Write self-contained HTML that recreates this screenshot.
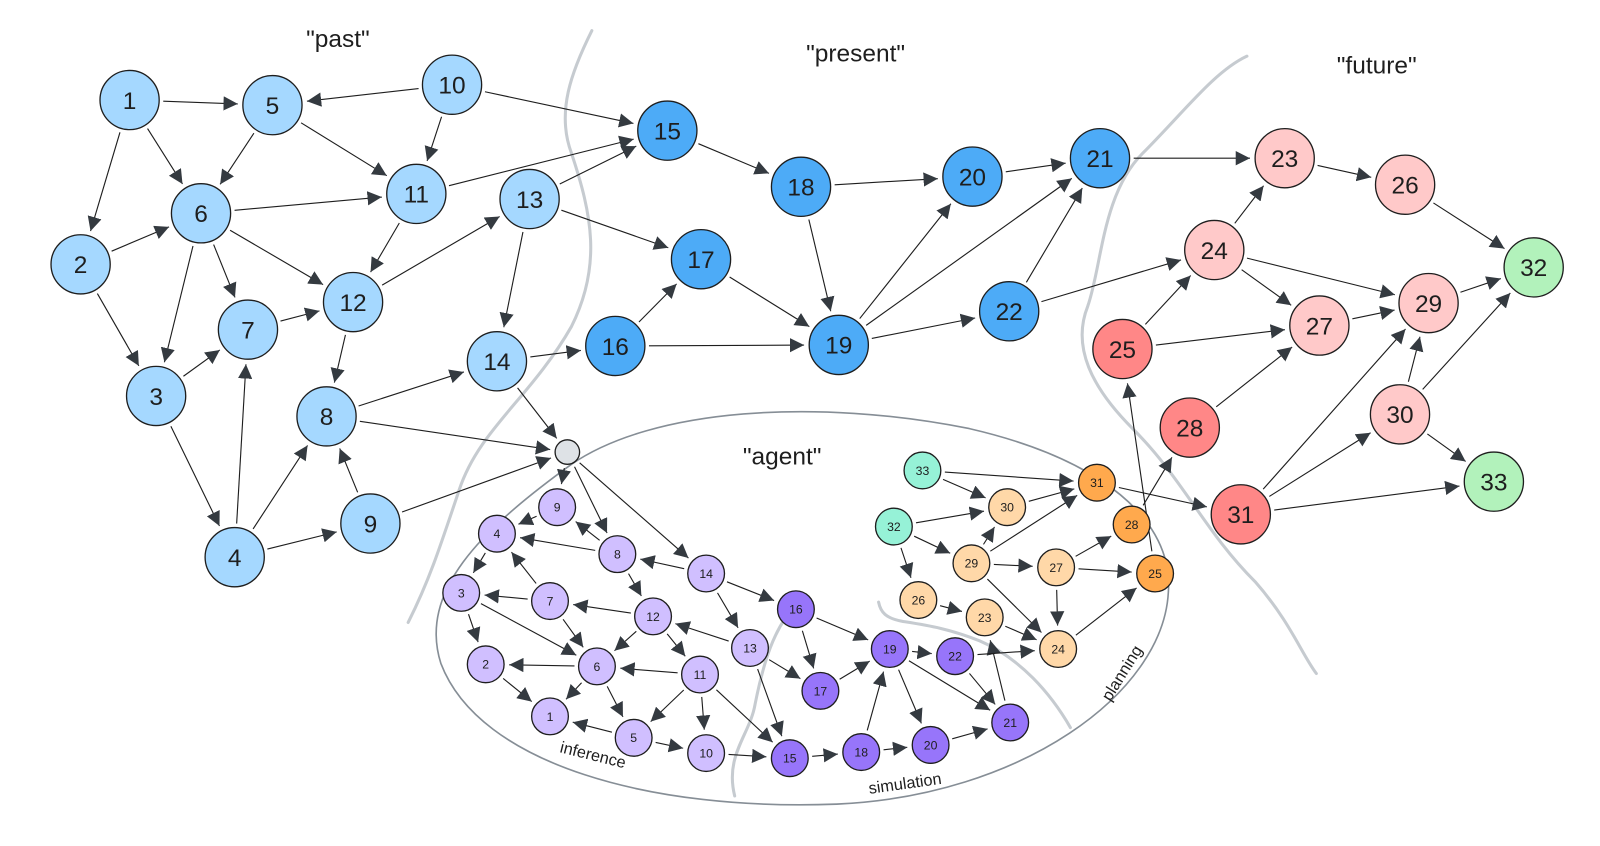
<!DOCTYPE html>
<html><head><meta charset="utf-8"><style>
html,body{margin:0;padding:0;background:#fff;}
svg{display:block;}
text{font-family:"Liberation Sans",sans-serif;}
</style></head><body>
<svg id="s" width="1600" height="846" viewBox="0 0 1568 829" xmlns="http://www.w3.org/2000/svg">
<defs><marker id="a" viewBox="0 0 10 10" refX="10" refY="5" markerWidth="9" markerHeight="9" markerUnits="userSpaceOnUse" orient="auto"><path d="M0,0L10,5L0,10z" fill="#343a40"/></marker>
<marker id="b" viewBox="0 0 10 10" refX="10" refY="5" markerWidth="14" markerHeight="14" markerUnits="userSpaceOnUse" orient="auto"><path d="M0,0L10,5L0,10z" fill="#343a40"/></marker></defs>
<g fill="none" stroke="#c6cbd0" stroke-width="3" stroke-linecap="round">
<path d="M580,30 C560,70 545,110 560,150 C580,210 590,260 560,320 C520,390 470,420 450,480 C430,540 420,570 400,610"/>
<path d="M1222,55 C1190,70 1160,110 1120,150 C1080,190 1080,260 1066,300 C1050,340 1070,380 1110,420 C1160,470 1180,520 1230,570 C1265,610 1275,640 1290,660"/>
<path d="M720,780 C710,740 735,720 740,690 C750,640 760,620 770,605"/>
<path d="M861,590 C863,600 868,606 885,609 C910,613 930,616 960,628 C1000,645 1030,680 1049,713"/>
</g>
<path d="M560,455 C640,400 800,390 950,420 C1080,450 1150,510 1145,580 C1140,680 1000,780 820,788 C640,795 470,750 432,650 C410,580 470,520 560,455 Z" fill="none" stroke="#868e96" stroke-width="1.6"/>
<g id="e" stroke="#1e1e1e" stroke-width="1.1" fill="none"></g>
<g id="n"></g>
<g fill="#1e1e1e" font-size="24">
<text x="300" y="46">"past"</text>
<text x="790" y="60">"present"</text>
<text x="1310" y="72">"future"</text>
<text x="728" y="455">"agent"</text>
<text font-size="16" transform="translate(548,737) rotate(14)">inference</text>
<text font-size="16" transform="translate(852,778) rotate(-8)">simulation</text>
<text font-size="16" transform="translate(1088,688) rotate(-58)">planning</text>
</g>
</svg>
<script>
var B={1:[127,98,'p'],5:[267,103,'p'],10:[443,83,'p'],2:[79,259,'p'],6:[197,209,'p'],11:[408,190,'p'],13:[519,195,'p'],3:[153,388,'p'],7:[243,323,'p'],12:[346,296,'p'],14:[487,354,'p'],8:[320,408,'p'],4:[230,546,'p'],9:[363,513,'p'],
15:[654,128,'d'],18:[785,183,'d'],20:[953,173,'d'],21:[1078,155,'d'],17:[687,254,'d'],16:[603,339,'d'],19:[822,338,'d'],22:[989,305,'d'],
23:[1259,155,'k'],26:[1377,181,'k'],24:[1190,245,'k'],32:[1503,262,'g'],27:[1293,319,'k'],29:[1400,297,'k'],25:[1100,342,'r'],28:[1166,419,'r'],30:[1372,406,'k'],33:[1464,472,'g'],31:[1216,504,'r']};
var A={9:[546,497,'l'],4:[487,523,'l'],8:[605,543,'l'],14:[692,562,'l'],3:[452,581,'l'],7:[539,589,'l'],12:[640,604,'l'],16:[780,597,'v'],13:[735,635,'l'],2:[476,651,'l'],6:[585,653,'l'],11:[686,661,'l'],17:[804,677,'v'],1:[539,702,'l'],5:[621,723,'l'],10:[692,738,'l'],15:[774,743,'v'],19:[872,636,'v'],22:[936,643,'v'],18:[844,737,'v'],20:[912,730,'v'],21:[990,708,'v'],33:[904,461,'t'],32:[876,516,'t'],30:[987,497,'o'],29:[952,552,'o'],26:[900,588,'o'],23:[965,605,'o'],27:[1035,556,'o'],24:[1037,636,'o'],31:[1075,473,'O'],28:[1109,514,'O'],25:[1132,562,'O'],G:[556,443,'x']};
var C={p:'#a5d8ff',d:'#4dabf7',k:'#ffc9c9',r:'#ff8787',g:'#b2f2bb',l:'#d0bfff',v:'#9775fa',t:'#96f2d7',o:'#ffd8a8',O:'#ffa94d',x:'#dee2e6'};
var NS='http://www.w3.org/2000/svg',eg=document.getElementById('e'),ng=document.getElementById('n');
function el(t,a,p){var e=document.createElementNS(NS,t);for(var k in a)e.setAttribute(k,a[k]);p.appendChild(e);return e;}
function line(p,q,rp,rq,m){var dx=q[0]-p[0],dy=q[1]-p[1],d=Math.hypot(dx,dy),ux=dx/d,uy=dy/d;
el('line',{x1:p[0]+ux*(rp+4),y1:p[1]+uy*(rp+4),x2:q[0]-ux*(rq+5),y2:q[1]-uy*(rq+5),'marker-end':'url(#'+m+')'},eg);}
var be="1-5 1-6 1-2 10-5 10-11 10-15 5-6 5-11 6-11 6-12 6-7 6-3 2-6 2-3 11-12 11-15 13-15 13-17 13-14 12-13 12-8 7-12 3-7 3-4 4-7 4-8 4-9 9-8 8-14 14-16 16-17 16-19 17-19 15-18 18-20 18-19 19-20 19-21 19-22 20-21 22-21 21-23 22-24 24-23 23-26 26-32 24-29 24-27 25-24 25-27 28-27 27-29 29-32 30-29 30-32 30-33 31-29 31-30 31-33";
be.split(' ').forEach(function(s){var q=s.split('-');line(B[q[0]],B[q[1]],29,29,'b');});
['9','8','14'].forEach(function(k){line(B[k],A.G,29,12,'b');});
var ae="G-9 G-8 G-14 9-4 8-9 8-4 14-8 8-12 4-3 7-4 7-3 12-7 7-6 3-6 3-2 12-6 12-11 13-12 14-13 14-16 16-17 13-17 13-15 6-2 11-6 2-1 6-1 6-5 11-5 11-10 11-15 5-1 5-10 10-15 15-18 17-19 18-19 18-20 19-20 19-22 19-21 22-21 20-21 21-23 22-24 16-19 33-31 33-30 32-30 32-29 32-26 30-31 29-30 29-31 29-27 29-24 26-23 23-24 27-24 27-28 27-25 24-25";
ae.split(' ').forEach(function(s){var q=s.split('-');line(A[q[0]],A[q[1]],q[0]=='G'?12:18,q[1]=='G'?12:18,'b');});
line(A[31],B[31],18,29,'b');line(A[28],B[28],18,29,'b');line(A[25],B[25],18,29,'b');
function node(k,v,r,fs){el('circle',{cx:v[0],cy:v[1],r:r,fill:C[v[2]],stroke:'#1e1e1e','stroke-width':1.3},ng);
if(k!='G'){var t=el('text',{x:v[0],y:v[1]+fs*0.36,'text-anchor':'middle','font-size':fs,fill:'#1e1e1e'},ng);t.textContent=k;}}
for(var k in B)node(k,B[k],29,24);
for(var k in A)node(k,A[k],k=='G'?12:18,12);
</script>
</body></html>
